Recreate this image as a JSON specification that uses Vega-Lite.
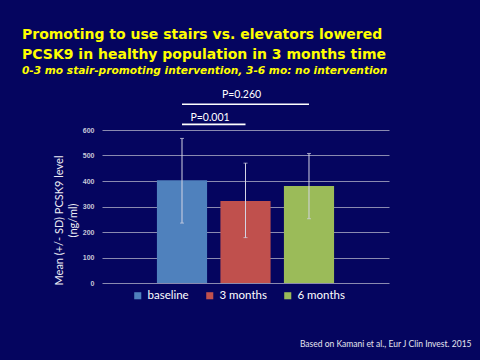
{
  "$schema": "https://vega.github.io/schema/vega-lite/v6.json",
  "autosize": "none",
  "width": 287,
  "height": 153,
  "padding": {"left": 102, "top": 130, "right": 91, "bottom": 77},
  "background": "#05055f",
  "config": {
    "view": {"stroke": null},
    "font": "Lato"
  },
  "datasets": {
    "bars": [
      {"group": "baseline", "mean": 403, "lo": 235, "hi": 567},
      {"group": "3 months", "mean": 322, "lo": 178, "hi": 470},
      {"group": "6 months", "mean": 380, "lo": 252, "hi": 508}
    ]
  },
  "title": {
    "text": ["Promoting to use stairs vs. elevators lowered", "PCSK9 in healthy population in 3 months time"],
    "subtitle": "0-3 mo stair-promoting intervention, 3-6 mo: no intervention",
    "anchor": "start",
    "frame": "group",
    "dx": -80,
    "offset": 13,
    "font": "DejaVu Sans",
    "fontSize": 14,
    "fontWeight": "bold",
    "color": "#ffff00",
    "lineHeight": 20,
    "subtitleFont": "DejaVu Sans",
    "subtitleFontSize": 10.6,
    "subtitleFontWeight": "bold",
    "subtitleFontStyle": "italic",
    "subtitleColor": "#ffff00",
    "subtitlePadding": 4
  },
  "layer": [
    {
      "data": {"name": "bars"},
      "mark": {"type": "bar"},
      "encoding": {
        "x": {"field": "group", "type": "nominal",
          "scale": {"domain": ["baseline", "3 months", "6 months"], "paddingInner": 0.21, "paddingOuter": 0.865},
          "axis": {"labels": false, "ticks": false, "domain": false, "grid": false,
            "title": "Based on Kamani et al., Eur J Clin Invest. 2015",
            "titleFont": "Lato", "titleFontSize": 8.5, "titleFontWeight": "normal", "titleColor": "#e6e6f0",
            "titleAlign": "right", "titleAnchor": "end", "titleBaseline": "middle", "titleX": 369, "titleY": 60}},
        "y": {"field": "mean", "type": "quantitative", "scale": {"domain": [0, 600], "nice": false},
          "axis": {"values": [0, 100, 200, 300, 400, 500, 600], "domain": false, "ticks": false, "labelOverlap": false,
            "gridColor": "#8a8ab0", "gridWidth": 1,
            "labelFont": "Liberation Sans", "labelFontSize": 7, "labelFontWeight": "bold", "labelColor": "#c8c8d8", "labelPadding": 8,
            "title": ["Mean (+/- SD) PCSK9 level", "(ng/ml)"],
            "titleFont": "Lato", "titleFontSize": 11, "titleFontWeight": "normal", "titleColor": "#ececf4",
            "titleLineHeight": 14, "titleY": 90, "titlePadding": 4}},
        "color": {"field": "group", "type": "nominal",
          "scale": {"domain": ["baseline", "3 months", "6 months"], "range": ["#4f81bd", "#c0504d", "#9bbb59"]},
          "legend": {"orient": "none", "direction": "horizontal", "legendX": 30, "legendY": 160, "title": null,
            "gridAlign": "none",
            "symbolType": "square", "symbolSize": 50, "symbolStrokeWidth": 0,
            "labelFont": "Lato", "labelFontSize": 11.5, "labelColor": "#ffffff", "labelOffset": 4, "columnPadding": 15}}
      }
    },
    {
      "data": {"name": "bars"},
      "mark": {"type": "rule", "color": "#d4d4e4", "strokeWidth": 1},
      "encoding": {
        "x": {"field": "group", "type": "nominal"},
        "y": {"field": "lo", "type": "quantitative", "axis": {"values": [0, 100, 200, 300, 400, 500, 600]}},
        "y2": {"field": "hi"}
      }
    },
    {
      "data": {"name": "bars"},
      "mark": {"type": "tick", "color": "#d4d4e4", "thickness": 1, "size": 4},
      "encoding": {
        "x": {"field": "group", "type": "nominal"},
        "y": {"field": "lo", "type": "quantitative", "axis": {"values": [0, 100, 200, 300, 400, 500, 600]}}
      }
    },
    {
      "data": {"name": "bars"},
      "mark": {"type": "tick", "color": "#d4d4e4", "thickness": 1, "size": 4},
      "encoding": {
        "x": {"field": "group", "type": "nominal"},
        "y": {"field": "hi", "type": "quantitative", "axis": {"values": [0, 100, 200, 300, 400, 500, 600]}}
      }
    },
    {
      "data": {"values": [
        {"from": "baseline", "to": "6 months", "y": 701},
        {"from": "baseline", "to": "3 months", "y": 622}
      ]},
      "mark": {"type": "rule", "color": "#ffffff", "strokeWidth": 1.6},
      "encoding": {
        "x": {"field": "from", "type": "nominal"},
        "x2": {"field": "to"},
        "y": {"field": "y", "type": "quantitative", "axis": {"values": [0, 100, 200, 300, 400, 500, 600]}}
      }
    },
    {
      "data": {"values": [{"at": "3 months", "y": 737, "label": "P=0.260"}]},
      "mark": {"type": "text", "color": "#ffffff", "font": "Lato", "fontSize": 10.5, "dx": -4, "baseline": "middle"},
      "encoding": {
        "x": {"field": "at", "type": "nominal"},
        "y": {"field": "y", "type": "quantitative", "axis": {"values": [0, 100, 200, 300, 400, 500, 600]}},
        "text": {"field": "label"}
      }
    },
    {
      "data": {"values": [{"at": "baseline", "y": 646, "label": "P=0.001"}]},
      "mark": {"type": "text", "color": "#ffffff", "font": "Lato", "fontSize": 10.5, "dx": 28, "baseline": "middle"},
      "encoding": {
        "x": {"field": "at", "type": "nominal"},
        "y": {"field": "y", "type": "quantitative", "axis": {"values": [0, 100, 200, 300, 400, 500, 600]}},
        "text": {"field": "label"}
      }
    }
  ]
}
